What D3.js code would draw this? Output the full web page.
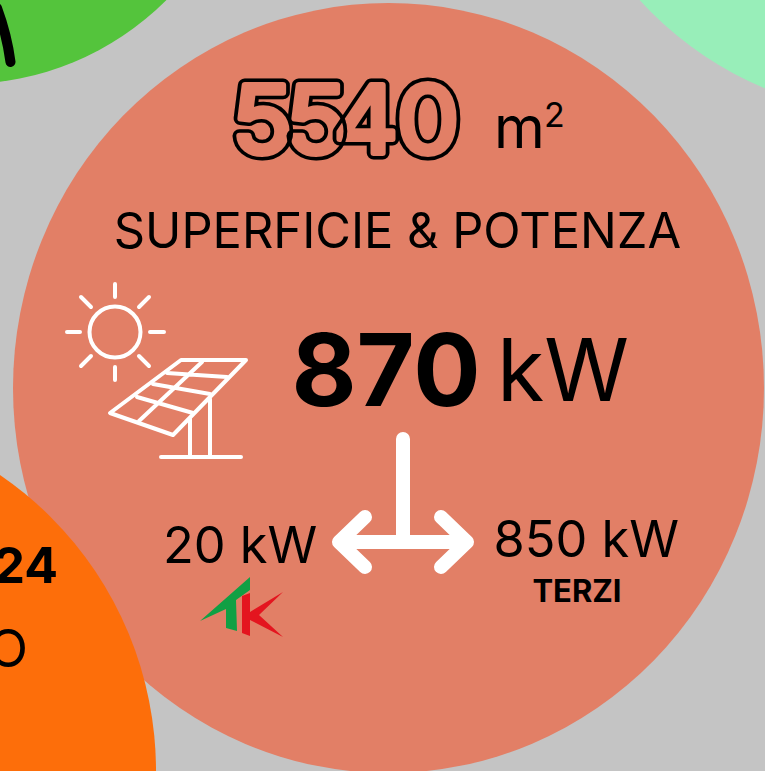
<!DOCTYPE html>
<html>
<head>
<meta charset="utf-8">
<script src="https://cdn.jsdelivr.net/npm/d3@7"></script>
<style>
	html, body { margin: 0; padding: 0; background: #c4c4c4; overflow: hidden; }
	text { font-family: Inter, "Noto Sans", sans-serif; fill: #000; }
</style>
</head>
<body>
<svg id="chart" width="765" height="771"></svg>
<script>
// values
var area_value = 5540,
	area_unit = "m",
	area_power = "2",
	title = "SUPERFICIE & POTENZA",
	power_total = 870,
	power_unit = "kW",
	power_own = 20,
	power_others = 850,
	others_label = "TERZI",
	cut_labels = ["24", "O"];

var svg = d3.select("#chart");

// background bubbles, the neighbours are cut off by the edge of the picture
svg.append("ellipse").attr("cx", -36).attr("cy", -202).attr("rx", 286).attr("ry", 286).attr("fill", "#54c43c");
svg.append("ellipse").attr("cx", 899).attr("cy", -235).attr("rx", 350).attr("ry", 350).attr("fill", "#98eeb9");
svg.append("ellipse").attr("cx", 388.5).attr("cy", 388).attr("rx", 375.5).attr("ry", 385).attr("fill", "#e27f66");
svg.append("ellipse").attr("cx", -203).attr("cy", 771).attr("rx", 359).attr("ry", 359).attr("fill", "#fd6e0a");

// end of the black stroke in the green bubble
svg.append("path")
	.attr("d", "M-3,8 Q7,35 10.5,62")
	.attr("fill", "none")
	.attr("stroke", "#000")
	.attr("stroke-width", 10)
	.attr("stroke-linecap", "round");

/* Draws one text label */
function label(str, x, y, size, weight, anchor) {
	return svg.append("text")
		.attr("x", x)
		.attr("y", y)
		.attr("text-anchor", anchor || "start")
		.style("font-size", size + "px")
		.style("font-weight", weight || 400)
		.text(str);
}

// hollow digits, every digit gets its own mask so the outlines can cross
var digit_x = [262, 316, 366, 428],
	defs = svg.append("defs");

String(area_value).split("").forEach(function(d, i) {
	var mask = defs.append("mask")
		.attr("id", "digit" + i)
		.attr("maskUnits", "userSpaceOnUse")
		.attr("x", 0).attr("y", 0).attr("width", 765).attr("height", 771);

	[["#fff", 13], ["#000", 6]].forEach(function(s) {
		mask.append("text")
			.attr("transform", "translate(" + digit_x[i] + ",152.5) scale(1.06,1)")
			.attr("text-anchor", "middle")
			.style("font-size", "94px")
			.style("font-weight", 400)
			.style("fill", s[0])
			.attr("stroke", s[0])
			.attr("stroke-width", s[1])
			.attr("stroke-linejoin", "round")
			.text(d);
	});

	svg.append("rect")
		.attr("width", 765).attr("height", 771)
		.attr("fill", "#000")
		.attr("mask", "url(#digit" + i + ")");
});

label(area_unit, 494, 148, 58);
label(area_power, 544, 127, 34);
label(title, 397.5, 248, 48.8, 400, "middle");
label(power_total, 291.5, 405.5, 100, 700);
label(power_unit, 497, 401, 86);
label(power_own + " " + power_unit, 163, 563, 50.5);
label(power_others + " " + power_unit, 493.5, 557, 50.5);
label(others_label, 577, 602, 31, 700, "middle");
label(cut_labels[0], 58, 583, 50, 700, "end");
label(cut_labels[1], 28, 667, 52, 400, "end");

// sun and solar panel icon
var icon = svg.append("g")
	.attr("fill", "none")
	.attr("stroke", "#fff")
	.attr("stroke-width", 4)
	.attr("stroke-linecap", "round")
	.attr("stroke-linejoin", "round");

icon.append("circle").attr("cx", 115).attr("cy", 332).attr("r", 25.5);
icon.append("path").attr("d", "M115,284V297M115,367V380M67,332H80M150,332H164M81,297L91,307M149,297L139,307M91,356L81,366M139,356L149,366");
icon.append("path").attr("d", "M181,360H246L173,435L110,413Z");
icon.append("path").attr("d", "M167,373L227,377M153,384L210,394M137,397L193,413M202,362L139,421");
icon.append("path").attr("d", "M190,419V457M210,399V457M161,457H241");

// arrow that splits the total power
svg.append("path")
	.attr("d", "M403,439V542M342,542H467M365,517L339,542L365,567M441,517L467,542L441,567")
	.attr("fill", "none")
	.attr("stroke", "#fff")
	.attr("stroke-width", 14)
	.attr("stroke-linecap", "round")
	.attr("stroke-linejoin", "round");

// TK logo
svg.append("path")
	.attr("d", "M200,621L250,577V590L236,600L237,631L226,628V609Z")
	.attr("fill", "#11a044");
svg.append("path")
	.attr("d", "M242,596L250,593V612L283,592L259,615L283,637L250,620V636L242,633Z")
	.attr("fill", "#e4151f");
</script>
</body>
</html>
